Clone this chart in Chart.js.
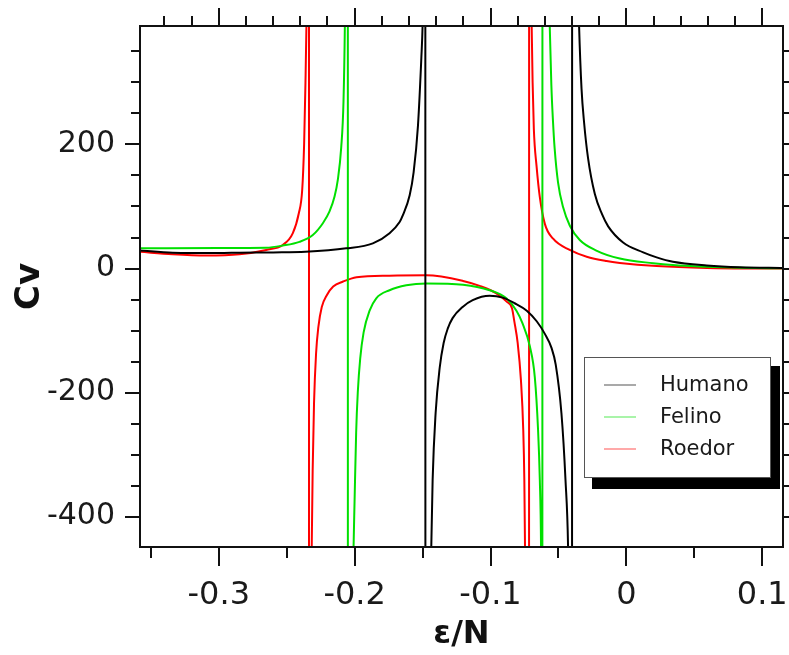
<!DOCTYPE html>
<html><head><meta charset="utf-8">
<script src="https://cdn.jsdelivr.net/npm/chart.js@4"></script>
<style>html,body{margin:0;padding:0;background:#fff;}canvas{display:block;}</style>
</head><body>
<canvas id="c" width="789" height="655"></canvas>
<script>
const seriesNames = ['Humano', 'Felino', 'Roedor'];

const humanoX = [-0.358,-0.334,-0.30,-0.2848,-0.26,-0.2362,-0.2062,-0.1866,-0.1743,-0.1669,-0.1645,-0.1595,-0.1566,-0.1534,-0.1509,-0.1500,-0.1495,-0.1490,-0.1485,-0.1481,
  -0.1478,-0.1468,-0.1458,-0.1448,-0.1436,-0.1426,-0.1404,-0.1374,-0.1345,-0.1315,-0.1279,-0.1205,-0.1131,-0.1006,-0.0910,-0.0822,-0.0733,-0.0660,-0.0601,-0.0551,-0.0520,-0.0478,-0.0448,-0.0429,-0.0420,-0.0412,-0.0406,-0.0401,
  -0.0398,-0.0385,-0.0372,-0.0360,-0.0348,-0.0330,-0.0311,-0.0282,-0.0232,-0.0180,-0.0134,-0.0024,0.0124,0.0223,0.0343,0.0591,0.0836,0.1153];
const humanoY = [29,25.5,25,25.5,26,27,32.5,40.6,57,75,86,118,155,230,340,391,450,600,1100,3000,
  -3000,-1900,-950,-630,-449,-341,-233,-160,-120,-97,-80,-62,-51,-44,-47,-56,-68,-85,-105,-128,-155,-233,-341,-449,-600,-900,-1600,-3000,
  3000,1400,720,500,391,290,235,178,120,88,68,42,26,18,11,5,2,0.8];

const felinoX = [-0.358,-0.30,-0.2651,-0.2529,-0.2406,-0.2308,-0.2234,-0.2185,-0.2148,-0.2124,-0.2099,-0.2082,-0.2072,-0.2064,-0.2058,-0.2051,
  -0.2049,-0.2038,-0.2028,-0.2018,-0.2008,-0.2001,-0.1989,-0.1977,-0.1959,-0.1934,-0.189,-0.1841,-0.1743,-0.162,-0.1473,-0.1202,-0.1006,-0.0883,-0.0809,-0.0765,-0.0711,-0.0674,-0.065,-0.0637,-0.0628,-0.0624,-0.0621,-0.0619,
  -0.0617,-0.0600,-0.0586,-0.0574,-0.0564,-0.0552,-0.0540,-0.0528,-0.0503,-0.0466,-0.0416,-0.0343,-0.0221,-0.0048,0.0198,0.0343,0.0591,0.0836,0.1153];
const felinoY = [32.5,33,33.5,37,43,54,73,92,116,143,195,270,393,600,1050,3000,
  -3000,-1600,-880,-600,-449,-379,-265,-200,-145,-103,-68,-48,-35,-27,-24,-26,-35,-48,-68,-88,-125,-175,-260,-341,-449,-600,-1000,-3000,
  3000,1200,680,490,391,295,237,194,139,99,69,46,29,16,8.5,5.5,2.8,1.2,0.3];

const roedorX = [-0.358,-0.334,-0.3094,-0.2848,-0.2651,-0.2529,-0.2455,-0.2411,-0.2386,-0.2372,-0.2362,-0.2355,-0.2349,-0.2343,-0.2337,
  -0.2335,-0.2328,-0.2322,-0.2316,-0.2309,-0.2299,-0.2284,-0.2267,-0.2242,-0.2205,-0.2158,-0.2085,-0.1986,-0.1744,-0.1473,-0.1202,-0.108,-0.0957,-0.0883,-0.0842,-0.0824,-0.08,-0.0776,-0.0759,-0.0751,-0.0746,-0.0740,-0.0733,-0.0725,-0.0717,
  -0.0715,-0.0709,-0.0703,-0.0697,-0.069,-0.0681,-0.0661,-0.0637,-0.06,-0.0539,-0.0417,-0.0292,-0.0146,-0.0048,0.0223,0.0591,0.1153];
const roedorY = [27,23,21,23,30,38,57,89,127,200,300,391,520,900,3000,
  -3000,-1100,-640,-449,-325,-217,-137,-94,-62,-43,-29,-21,-14,-11.5,-11,-20,-28,-40,-53,-64,-86,-120,-180,-260,-341,-449,-620,-950,-1700,-3000,
  3000,900,520,391,300,225,165,115,72,48,30,19,12,9,4,1,0];

const xTickLabels = [-0.3, -0.2, -0.1, 0, 0.1];
const yTickLabels = [-400, -200, 0, 200];
const xTitle = 'ε/N';
const yTitle = 'Cv';

const seriesColors = ['#000000', '#00e000', '#ff0000'];

function pts(xs, ys) { return xs.map((x, i) => ({ x: x, y: ys[i] })); }

Chart.defaults.font.family = "'DejaVu Sans', sans-serif";
Chart.defaults.color = '#1a1a1a';

const frameAndLegend = {
  id: 'frameAndLegend',
  afterDraw(chart) {
    const ctx = chart.ctx, a = chart.chartArea;
    const xs = chart.scales.x, ys = chart.scales.y;
    ctx.save();
    ctx.strokeStyle = '#111';
    ctx.lineWidth = 2;
    ctx.strokeRect(a.left, a.top, a.right - a.left, a.bottom - a.top);
    ctx.beginPath();
    for (let i = -7; i <= 2; i++) {
      const px = Math.round(xs.getPixelForValue(i * 0.05));
      if (px < a.left - 1 || px > a.right + 1) continue;
      const L = (i % 2 === 0) ? 19 : 11;
      ctx.moveTo(px, a.bottom); ctx.lineTo(px, a.bottom + L);
    }
    for (let i = -17; i <= 5; i++) {
      const px = Math.round(xs.getPixelForValue(i * 0.02));
      if (px < a.left - 1 || px > a.right + 1) continue;
      const L = (i % 5 === 0) ? 18 : 10;
      ctx.moveTo(px, a.top); ctx.lineTo(px, a.top - L);
    }
    for (let i = -8; i <= 7; i++) {
      const v = i * 50;
      const py = Math.round(ys.getPixelForValue(v));
      if (py < a.top - 1 || py > a.bottom + 1) continue;
      const L = (v % 200 === 0) ? 15 : 9;
      ctx.moveTo(a.left, py); ctx.lineTo(a.left - L, py);
      ctx.moveTo(a.right, py); ctx.lineTo(a.right + L, py);
    }
    ctx.stroke();

    ctx.fillStyle = '#000';
    ctx.fillRect(592, 366, 188, 123);
    ctx.fillStyle = '#fff';
    ctx.fillRect(584, 357, 187, 121);
    ctx.strokeStyle = '#555';
    ctx.lineWidth = 1;
    ctx.strokeRect(584.5, 357.5, 186, 120);
    const rowsY = [385, 417, 449];
    ctx.font = "21px 'DejaVu Sans'";
    ctx.textBaseline = 'middle';
    ctx.textAlign = 'left';
    chart.data.datasets.forEach((ds, i) => {
      ctx.globalAlpha = 0.45;
      ctx.strokeStyle = ds.borderColor;
      ctx.lineWidth = 1.5;
      ctx.beginPath();
      ctx.moveTo(604, rowsY[i]); ctx.lineTo(636, rowsY[i]);
      ctx.stroke();
      ctx.globalAlpha = 1;
      ctx.fillStyle = '#1a1a1a';
      ctx.fillText(ds.label, 660, rowsY[i] + 1);
    });
    ctx.restore();
  }
};

const datasets = [
  { label: seriesNames[0], data: pts(humanoX, humanoY), borderColor: seriesColors[0] },
  { label: seriesNames[1], data: pts(felinoX, felinoY), borderColor: seriesColors[1] },
  { label: seriesNames[2], data: pts(roedorX, roedorY), borderColor: seriesColors[2] }
].map(d => Object.assign(d, { showLine: true, pointRadius: 0, borderWidth: 2, cubicInterpolationMode: 'monotone', fill: false }));

new Chart(document.getElementById('c'), {
  type: 'scatter',
  data: { datasets: datasets },
  options: {
    responsive: false,
    animation: false,
    devicePixelRatio: 1,
    layout: { padding: { top: 26, right: 6, left: 0, bottom: 0 } },
    plugins: { legend: { display: false }, tooltip: { enabled: false } },
    scales: {
      x: {
        type: 'linear', min: -0.358, max: 0.1153,
        afterBuildTicks: s => { s.ticks = xTickLabels.map(v => ({ value: v })); },
        afterFit: s => { s.height = 108; s.paddingLeft = 0; s.paddingRight = 0; },
        grid: { display: true, drawOnChartArea: false, drawTicks: true, tickLength: 19, color: 'rgba(0,0,0,0)' },
        border: { display: false },
        ticks: { autoSkip: false, maxRotation: 0, padding: 10, font: { size: 32 }, color: '#1a1a1a', callback: v => String(v) },
        title: { display: true, text: xTitle, font: { size: 32, weight: 'bold' }, color: '#111', padding: { top: 0, bottom: 1 } }
      },
      y: {
        type: 'linear', min: -449, max: 391,
        afterBuildTicks: s => { s.ticks = yTickLabels.map(v => ({ value: v })); },
        afterFit: s => { s.width = 140; s.paddingTop = 0; s.paddingBottom = 0; },
        grid: { display: true, drawOnChartArea: false, drawTicks: true, tickLength: 15, color: 'rgba(0,0,0,0)' },
        border: { display: false },
        ticks: { autoSkip: false, padding: 10, font: { size: 30 }, color: '#1a1a1a', callback: v => String(v) },
        title: { display: true, text: yTitle, font: { size: 34, weight: 'bold' }, color: '#111', padding: { top: 10, bottom: 0 } }
      }
    }
  },
  plugins: [frameAndLegend]
});
</script>
</body></html>
